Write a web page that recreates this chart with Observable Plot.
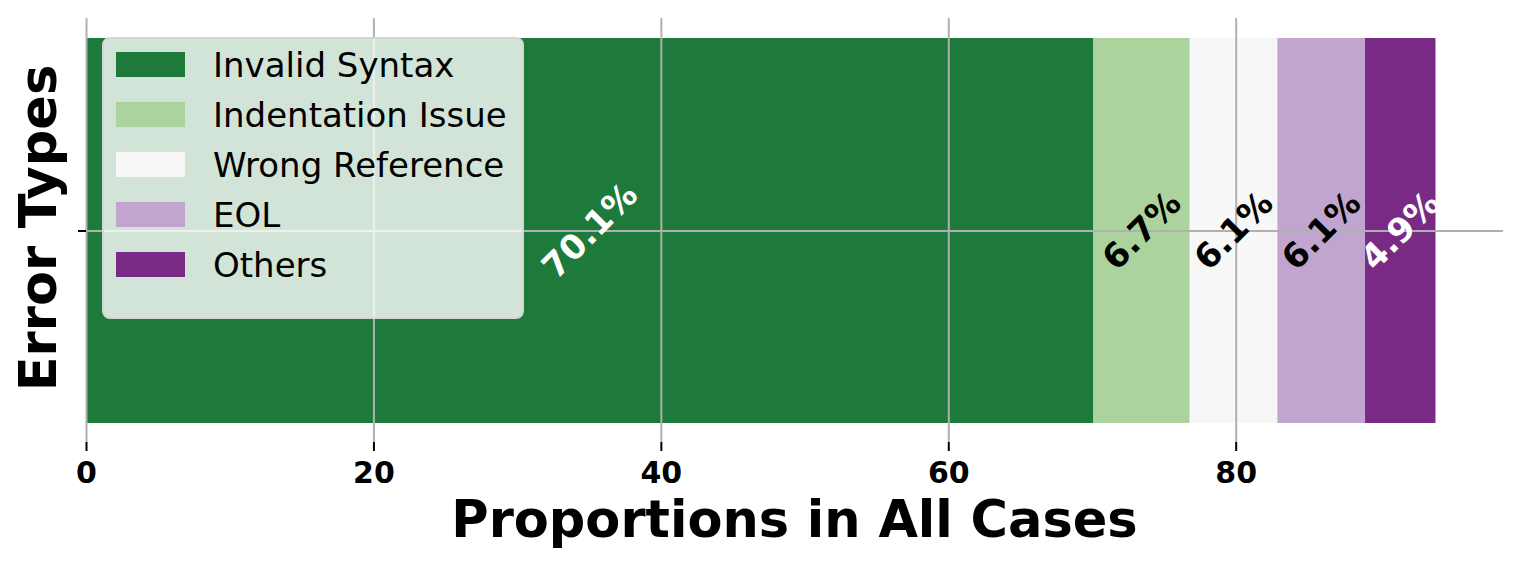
<!DOCTYPE html>
<html>
<head>
<meta charset="utf-8">
<script src="https://cdn.jsdelivr.net/npm/d3@7"></script>
<script src="https://cdn.jsdelivr.net/npm/@observablehq/plot@0.6"></script>
<style>
  html, body { margin: 0; padding: 0; background: white; overflow: hidden; }
  #wrap { position: relative; width: 1522px; height: 566px; font-family: "DejaVu Sans", sans-serif; }
  #legend { position: absolute; left: 102px; top: 37px; width: 418px; height: 278px;
    background: rgba(255,255,255,0.8); border: 2px solid #d6d6d6; border-radius: 8px; }
  .item { position: absolute; left: 0; height: 50px; }
  .sw { position: absolute; left: 12px; width: 69px; height: 25px; }
  .lab { position: absolute; left: 109px; font-size: 34px; color: black; white-space: nowrap; line-height: 1; }
</style>
</head>
<body>
<div id="wrap"><div id="chart"></div><div id="legend"></div></div>
<script>
const categories = ["Invalid Syntax", "Indentation Issue", "Wrong Reference", "EOL", "Others"];
const values = [70.1, 6.7, 6.1, 6.1, 4.9];
const darkLabels = ["Invalid Syntax", "Others"];
const xTicks = [0, 20, 40, 60, 80];
const palette = ["#1e7a3a", "#acd39e", "#f7f7f7", "#c2a5cf", "#782a84"];
const rowName = ["Error Types"];

const data = categories.map((c, i) => ({type: c, value: values[i], row: rowName[0]}));
const fmt = d => d.value.toFixed(1) + "%";

const chart = Plot.plot({
  width: 1522, height: 566,
  marginLeft: 86, marginRight: 19, marginTop: 18, marginBottom: 124,
  style: {fontFamily: "DejaVu Sans", background: "white", color: "black"},
  x: {domain: [0, 98.6]},
  y: {domain: rowName, padding: 0.048},
  color: {domain: categories, range: palette},
  marks: [
    Plot.barX(data, Plot.stackX({x: "value", y: "row", fill: "type"})),
    Plot.gridX(xTicks, {stroke: "#b0b0b0", strokeWidth: 2, strokeOpacity: 1}),
    Plot.gridY(rowName, {stroke: "#b0b0b0", strokeWidth: 2, strokeOpacity: 1}),
    Plot.axisX(xTicks, {tickSize: 9, tickPadding: 10, fontSize: 30, fontWeight: "bold", strokeWidth: 2, label: null, tickFormat: d => String(d)}),
    Plot.axisY(rowName, {tickSize: 8, strokeWidth: 2, tickFormat: () => "", label: null}),
    Plot.text(data, Plot.stackX({x: "value", y: "row", text: d => darkLabels.includes(d.type) ? fmt(d) : "", rotate: -45, fontSize: 34, fontWeight: "bold", fill: "white"})),
    Plot.text(data, Plot.stackX({x: "value", y: "row", text: d => darkLabels.includes(d.type) ? "" : fmt(d), rotate: -45, fontSize: 34, fontWeight: "bold", fill: "black"}))
  ]
});
document.getElementById("chart").appendChild(chart);

const svg = d3.select(chart);
svg.append("text")
  .attr("x", (86 + 1503) / 2).attr("y", 537)
  .attr("text-anchor", "middle")
  .attr("font-family", "DejaVu Sans").attr("font-weight", "bold").attr("font-size", 51)
  .attr("fill", "black")
  .text("Proportions in All Cases");
svg.append("text")
  .attr("transform", "translate(56,228) rotate(-90)")
  .attr("text-anchor", "middle")
  .attr("font-family", "DejaVu Sans").attr("font-weight", "bold").attr("font-size", 51)
  .attr("fill", "black")
  .text("Error Types");

const legend = d3.select("#legend");
categories.forEach((c, i) => {
  const it = legend.append("div").attr("class", "item").style("top", (i * 50) + "px").style("width", "100%");
  it.append("div").attr("class", "sw").style("background", palette[i]).style("top", "13px");
  it.append("div").attr("class", "lab").style("top", "9px").text(c);
});
</script>
</body>
</html>
